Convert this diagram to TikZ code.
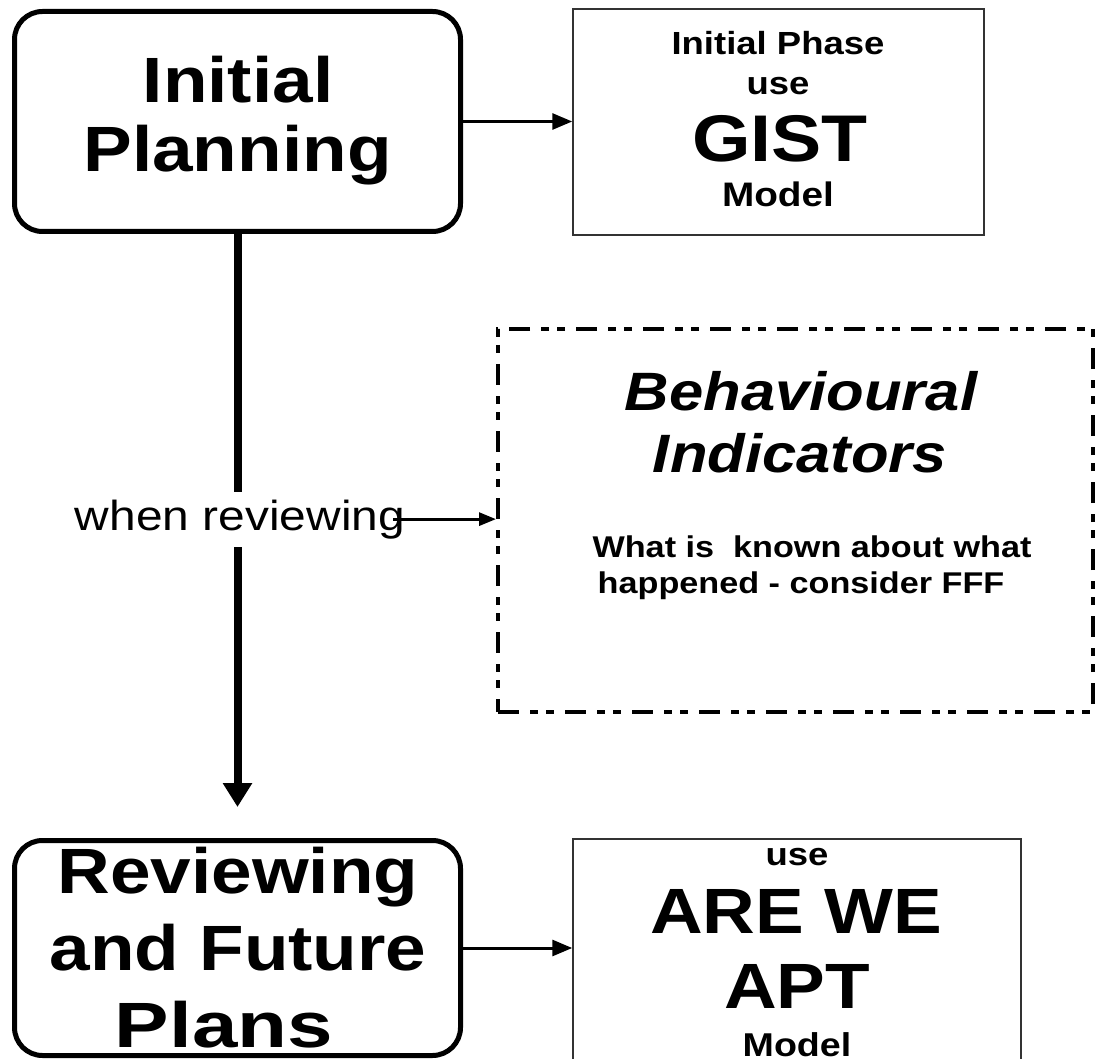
\documentclass[tikz,border=0pt]{standalone}
\usepackage{graphicx}
\usepackage{fontspec}
\setmainfont{Liberation Sans}[FakeStretch=1.14]
\usetikzlibrary{arrows.meta}

\newcommand\fsz[1]{\fontsize{#1}{#1}\selectfont}

\begin{document}
\begin{tikzpicture}[x=1pt,y=-1pt,
  planbox/.style={draw, line width=5pt, rounded corners=28pt, inner sep=0pt,
                  minimum width=446pt},
  modelbox/.style={draw=black!80, line width=1.5pt, inner sep=0pt},
  cuebox/.style={draw, line width=4pt, inner sep=0pt,
                 dash pattern=on 21pt off 11pt on 8pt off 8pt on 8pt off 11pt},
  txt/.style={anchor=base, inner sep=0pt},
  big/.style={txt, font=\bfseries\fsz{64}},
  small/.style={txt, font=\bfseries\fsz{32}},
  note/.style={txt, font=\bfseries\fsz{30}},
  thinarrow/.style={line width=3pt, -{Triangle[length=20pt,width=16pt]}},
]
\useasboundingbox (0,0) rectangle (1098,1059);

% boxes
\node[planbox, minimum height=220pt] (ip) at (237.5,121.5) {};
\node[planbox, minimum height=215pt] (rv) at (237.5,948) {};
\node[modelbox, minimum width=411pt, minimum height=226pt] (gist) at (778.5,122) {};
\node[modelbox, minimum width=448pt, minimum height=251pt] (apt) at (797,964.5) {};
\node[cuebox, minimum width=595pt, minimum height=383pt] (bi) at (795.5,520.5) {};

% Initial Planning
\node[big] (ip1) at (238,103) {Initial};
\node[big] (ip2) at (237.5,172) {Planning};

% Reviewing and Future Plans
\node[big] (rv1) at (238,893) {Reviewing};
\node[big] (rv2) at (238,970) {and Future};
\node[big] (rv3) at (224,1047) {\scalebox{1.12}[1]{Plans}};

% GIST model
\node[small] (g1) at (778,55) {Initial Phase};
\node[small] (g2) at (778,95) {use};
\node[txt, font=\bfseries\fsz{66}] (g3) at (780,162) {GIST};
\node[small, font=\bfseries\fsz{34}] (g4) at (778,207) {Model};

% ARE WE APT model
\node[small] (a1) at (797,865) {use};
\node[big] (a2) at (796,933) {ARE WE};
\node[big] (a3) at (797,1008) {APT};
\node[small, font=\bfseries\fsz{33}] (a4) at (797,1056) {Model};

% Behavioural indicators
\node[txt, font=\bfseries\itshape\fsz{54}] (b1) at (801,410) {Behavioural};
\node[txt, font=\bfseries\itshape\fsz{54}] (b2) at (800,472) {Indicators};
\node[note] (b3) at (812,557) {What is\ \ known about what};
\node[note] (b4) at (801,593) {happened - consider FFF};

% connectors
\coordinate (tip) at (237.5,807);
\draw[line width=8pt, -{Triangle[length=24pt,width=28pt]}] (ip.south) -- (tip);
\draw[thinarrow] (ip.east) -- (ip.east -| gist.west);
\draw[thinarrow] (rv.east) -- (rv.east -| apt.west);

\node[txt, font=\fsz{42}, fill=white, inner ysep=8pt, inner xsep=0pt] (wr) at (240,530) {when reviewing};
\draw[line width=3pt, -{Triangle[length=17pt,width=13pt]}] ([xshift=-12pt]wr.east) -- (wr.east -| bi.west);
\end{tikzpicture}
\end{document}
